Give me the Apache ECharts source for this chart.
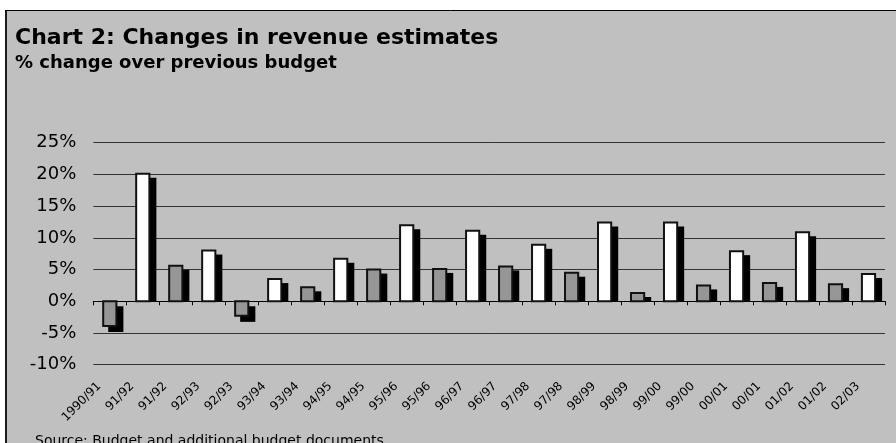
<!DOCTYPE html>
<html>
<head>
<meta charset="utf-8">
<title>Chart 2: Changes in revenue estimates</title>
<script src="https://cdn.jsdelivr.net/npm/echarts@6/dist/echarts.min.js"></script>
<style>
  html, body { margin: 0; padding: 0; background: #ffffff; }
  #chart { width: 896px; height: 443px; }
</style>
</head>
<body>
<div id="chart"></div>
<script>
// Fiscal-year labels: each year appears once for the budget estimate
// and once for the additional budget estimate.
const categories = [
  '1990/91', '91/92', '91/92', '92/93', '92/93', '93/94', '93/94', '94/95',
  '94/95', '95/96', '95/96', '96/97', '96/97', '97/98', '97/98', '98/99',
  '98/99', '99/00', '99/00', '00/01', '00/01', '01/02', '01/02', '02/03'
];

// % change over previous budget, budget estimates (white bars)
const budgetChange = [
  null, 20.1, null, 8.0, null, 3.5, null, 6.7,
  null, 12.0, null, 11.1, null, 8.9, null, 12.4,
  null, 12.4, null, 7.9, null, 10.9, null, 4.3
];

// % change over previous budget, additional budget estimates (grey bars)
const additionalChange = [
  -3.9, null, 5.6, null, -2.3, null, 2.2, null,
  5.0, null, 5.1, null, 5.5, null, 4.5, null,
  1.3, null, 2.5, null, 2.9, null, 2.7, null
];

const yMin = -10, yMax = 25, yStep = 5;

const FONT = 'DejaVu Sans';

function toPairs(values) {
  const out = [];
  values.forEach(function (v, i) { if (v !== null) out.push([i, v]); });
  return out;
}

// Bar with a hard black drop shadow, as in old spreadsheet charts.
// The shadow of a positive bar stops at the zero line.
function shadowBar(fill) {
  return function (params, api) {
    const i = api.value(0);
    const v = api.value(1);
    const base = api.coord([i, 0]);
    const tip = api.coord([i, v]);
    const band = api.size([1, 0])[0];
    const lw = 2;
    const w = band * 0.4;
    const x = base[0] - w / 2;
    const dx = 6, dy = 5;
    let sTop, sBottom;
    if (v >= 0) {
      sTop = tip[1] - lw / 2 + dy;
      sBottom = base[1];
    } else {
      sTop = base[1] + dy;
      sBottom = tip[1] + lw / 2 + dy;
    }
    return {
      type: 'group',
      children: [
        {
          type: 'rect',
          shape: { x: x - lw / 2 + dx, y: sTop, width: w + lw, height: Math.max(0, sBottom - sTop) },
          style: { fill: '#000000' }
        },
        {
          type: 'rect',
          shape: { x: x, y: Math.min(base[1], tip[1]), width: w, height: Math.abs(tip[1] - base[1]) },
          style: { fill: fill, stroke: '#111111', lineWidth: lw }
        }
      ]
    };
  };
}

const chart = echarts.init(document.getElementById('chart'), null, { renderer: 'canvas' });

chart.setOption({
  backgroundColor: '#ffffff',
  animation: false,
  title: [
    {
      text: 'Chart 2: Changes in revenue estimates',
      left: 15, top: 27, padding: 0,
      textStyle: { fontFamily: FONT, fontSize: 22, fontWeight: 'bold', color: '#000000' }
    },
    {
      text: '% change over previous budget',
      left: 15, top: 54.5, padding: 0,
      textStyle: { fontFamily: FONT, fontSize: 18, fontWeight: 'bold', color: '#000000' }
    }
  ],
  graphic: [
    {
      type: 'rect', z: -100, silent: true,
      shape: { x: 5, y: 10, width: 1000, height: 500 },
      style: { fill: '#c0c0c0' }
    },
    {
      type: 'line', z: -99, silent: true,
      shape: { x1: 6, y1: 10, x2: 6, y2: 443 },
      style: { stroke: '#1a1a1a', lineWidth: 2 }
    },
    {
      type: 'line', z: -99, silent: true,
      shape: { x1: 5, y1: 10.5, x2: 896, y2: 10.5 },
      style: { stroke: '#000000', lineWidth: 1 }
    },
    {
      type: 'text', silent: true,
      left: 35, top: 434,
      style: {
        text: 'Source: Budget and additional budget documents',
        font: '14px "DejaVu Sans"',
        fill: '#000000'
      }
    }
  ],
  grid: { left: 93.3, right: 11, top: 142.7, bottom: 78.3, containLabel: false },
  xAxis: [
    {
      type: 'category',
      data: categories,
      position: 'bottom',
      boundaryGap: true,
      axisLine: { show: true, onZero: true, lineStyle: { color: '#000000', width: 1 } },
      axisTick: { show: true, length: 4, interval: 0, lineStyle: { color: '#000000' } },
      axisLabel: { show: false },
      splitLine: { show: false }
    },
    {
      type: 'category',
      data: categories,
      position: 'bottom',
      boundaryGap: true,
      axisLine: { show: false, onZero: false },
      axisTick: { show: false },
      axisLabel: {
        show: true,
        interval: 0,
        rotate: 45,
        margin: 9,
        padding: [0, 15, 0, 0],
        fontFamily: FONT,
        fontSize: 12,
        color: '#000000'
      },
      splitLine: { show: false }
    }
  ],
  yAxis: {
    type: 'value',
    min: yMin,
    max: yMax,
    interval: yStep,
    axisLine: { show: false },
    axisTick: { show: false },
    axisLabel: {
      margin: 17,
      fontFamily: FONT,
      fontSize: 18,
      color: '#000000',
      formatter: function (v) { return v + '%'; }
    },
    splitLine: { show: true, lineStyle: { color: '#333333', width: 1 } }
  },
  series: [
    {
      name: 'Additional budget',
      type: 'custom',
      xAxisIndex: 0,
      yAxisIndex: 0,
      renderItem: shadowBar('#969696'),
      encode: { x: 0, y: 1 },
      data: toPairs(additionalChange),
      z: 3
    },
    {
      name: 'Budget',
      type: 'custom',
      xAxisIndex: 0,
      yAxisIndex: 0,
      renderItem: shadowBar('#ffffff'),
      encode: { x: 0, y: 1 },
      data: toPairs(budgetChange),
      z: 3
    }
  ]
});
</script>
</body>
</html>
